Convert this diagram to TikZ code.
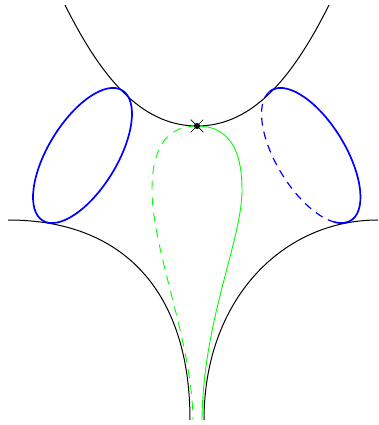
\documentclass[tikz,border=0pt]{standalone}
\usepackage{tikz}
\usetikzlibrary{shapes.misc}

\begin{document}
\begin{tikzpicture}[
    x=1pt, y=1pt,
    surface/.style={draw=black, line width=1pt},
    cuff/.style={draw=blue, line width=1.7pt},
    backcuff/.style={draw=blue, line width=1.2pt, dash pattern=on 8pt off 6pt},
    seam/.style={draw=green, line width=0.9pt},
    backseam/.style={draw=green, line width=0.9pt, dash pattern=on 9pt off 7pt},
    pinch/.style={draw, cross out, minimum size=12pt, inner sep=0pt, line width=0.7pt}
  ]
    \useasboundingbox (0,0) rectangle (378,425);

    % Outer contour
    \draw[surface] (65,420) .. controls (100,350) and (140,299) .. (197,299)
      .. controls (254,299) and (294,350) .. (329,420);
    \draw[surface] (8,205) .. controls (131,205) and (190,125) .. (190,5);
    \draw[surface] (378,205) .. controls (282,205) and (204,125) .. (204,5);

    % Left cuff
    \draw[cuff, shift={(82.5,269.5)}, rotate=58.6]
      (0,0) ellipse [x radius=76.3, y radius=34.5];

    % Right cuff, front and back
    \draw[cuff, shift={(311,269.5)}, rotate=121.4]
      (76.11,2.41) arc [start angle=4, end angle=-206, x radius=76.3, y radius=34.5];
    \draw[backcuff, shift={(311,269.5)}, rotate=121.4]
      (76.11,2.41) arc [start angle=4, end angle=154, x radius=76.3, y radius=34.5];

    % Pinch point
    \node[pinch] (pinch) at (197,299) {};

    % Seam loop
    \draw[backseam] (pinch.center) .. controls (165,299) and (152,275) .. (152,235)
      .. controls (152,175) and (192,85) .. (193,5);
    \draw[seam] (pinch.center) .. controls (235,299) and (242,265) .. (242,235)
      .. controls (242,185) and (203,105) .. (202,5);

    \fill (pinch.center) circle (3);
  \end{tikzpicture}
\end{document}
